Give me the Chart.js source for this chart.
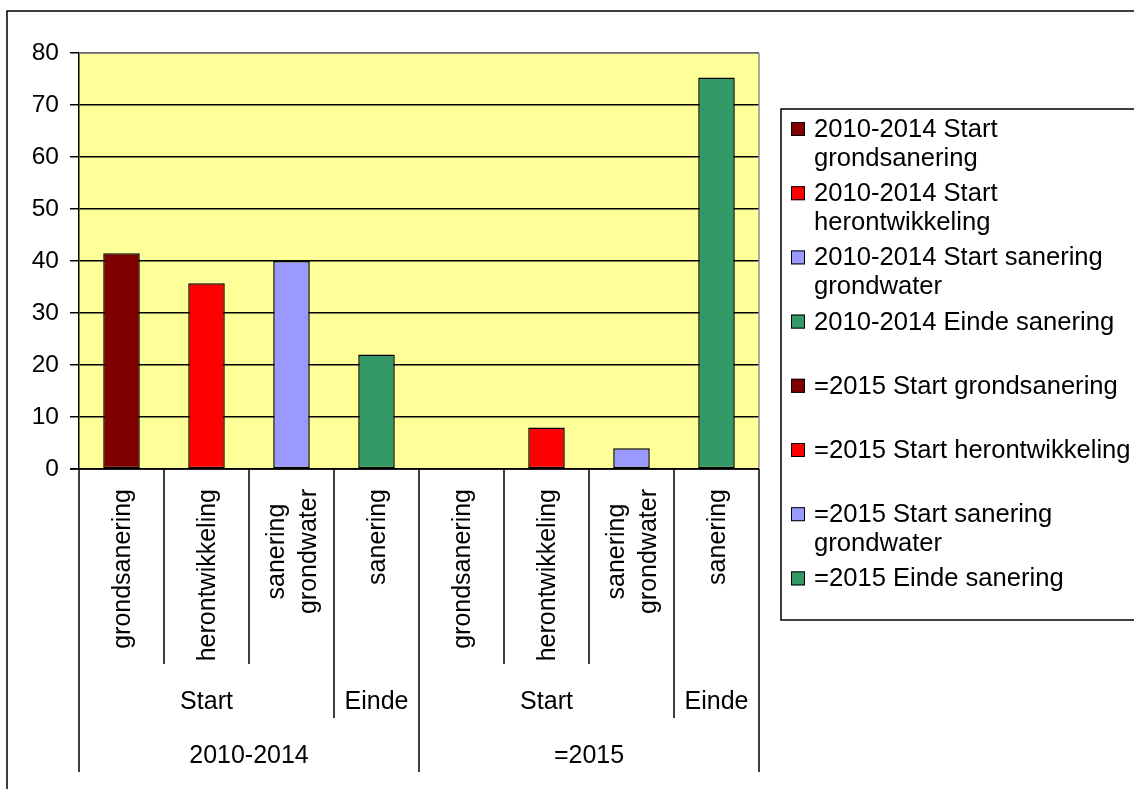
<!DOCTYPE html>
<html>
<head>
<meta charset="utf-8">
<script src="https://cdn.jsdelivr.net/npm/chart.js@4.4.1/dist/chart.umd.min.js"></script>
<style>
    html, body { margin: 0; padding: 0; background: #fff; }
    #chart { display: block; }
</style>
</head>
<body>
<canvas id="chart" width="1134" height="789"></canvas>
<script>
// categorieën (onderste niveau van de as)
const categories = [
    'grondsanering', 'herontwikkeling', ['sanering', 'grondwater'], 'sanering',
    'grondsanering', 'herontwikkeling', ['sanering', 'grondwater'], 'sanering'
];
const phaseLabels = ['Start', 'Einde', 'Start', 'Einde'];
const phaseSpans = [3, 1, 3, 1];
const periodLabels = ['2010-2014', '=2015'];
const periodSpans = [4, 4];

const seriesNames = [
    ['2010-2014 Start', 'grondsanering'],
    ['2010-2014 Start', 'herontwikkeling'],
    ['2010-2014 Start sanering', 'grondwater'],
    ['2010-2014 Einde sanering'],
    ['=2015 Start grondsanering'],
    ['=2015 Start herontwikkeling'],
    ['=2015 Start sanering', 'grondwater'],
    ['=2015 Einde sanering']
];
const seriesValues = [41.5, 35.7, 40, 22, 0, 8, 4, 75.3];
const seriesColors = ['#800000', '#FF0000', '#9999FF', '#339966', '#800000', '#FF0000', '#9999FF', '#339966'];

const yMin = 0;
const yMax = 80;
const yStep = 10;

const FONT = "'Liberation Sans', Arial, sans-serif";

// elke reeks heeft alleen een waarde in zijn eigen categorie
const datasets = seriesNames.map((name, i) => ({
    label: name.join(' '),
    data: categories.map((_, j) => (j === i ? seriesValues[i] : null)),
    backgroundColor: seriesColors[i],
    borderColor: '#000',
    borderWidth: 1.5,
    borderSkipped: false,
    categoryPercentage: 1,
    barPercentage: 0.43
}));

function line(ctx, x1, y1, x2, y2) {
    ctx.beginPath();
    ctx.moveTo(x1, y1);
    ctx.lineTo(x2, y2);
    ctx.stroke();
}

const excelLook = {
    id: 'excelLook',
    beforeDraw(chart) {
        const { ctx, chartArea: a } = chart;
        ctx.save();
        ctx.fillStyle = '#fff';
        ctx.fillRect(0, 0, chart.width, chart.height);
        ctx.fillStyle = '#FFFF99';
        ctx.fillRect(a.left, a.top, a.right - a.left, a.bottom - a.top);
        ctx.restore();
    },
    afterDraw(chart) {
        const { ctx, chartArea: a } = chart;
        const xs = chart.scales.x;
        const n = categories.length;
        const step = (a.right - a.left) / n;
        const edge = i => a.left + i * step;

        ctx.save();

        // buitenrand
        ctx.strokeStyle = '#000';
        ctx.lineWidth = 1.5;
        ctx.strokeRect(7, 11, chart.width + 20, chart.height + 20);

        // grijze rand van het tekengebied
        ctx.strokeStyle = '#8c8c8c';
        ctx.lineWidth = 1.5;
        line(ctx, a.left, a.top, a.right, a.top);
        line(ctx, a.right, a.top, a.right, a.bottom);

        // x-as
        ctx.strokeStyle = '#000';
        line(ctx, a.left - 9, a.bottom, a.right, a.bottom);

        // scheidingslijnen per niveau
        const phaseEdges = [0];
        phaseSpans.forEach(s => phaseEdges.push(phaseEdges[phaseEdges.length - 1] + s));
        const periodEdges = [0];
        periodSpans.forEach(s => periodEdges.push(periodEdges[periodEdges.length - 1] + s));
        for (let i = 0; i <= n; i++) {
            let end = a.bottom + 195;
            if (periodEdges.includes(i)) end = a.bottom + 303;
            else if (phaseEdges.includes(i)) end = a.bottom + 249;
            line(ctx, edge(i), a.bottom, edge(i), end);
        }

        // gedraaide categorielabels
        ctx.fillStyle = '#000';
        ctx.font = '25px ' + FONT;
        categories.forEach((cat, i) => {
            const lines = Array.isArray(cat) ? cat : [cat];
            const maxW = Math.max(...lines.map(t => ctx.measureText(t).width));
            const cx = xs.getPixelForValue(i);
            ctx.save();
            ctx.translate(cx, a.bottom + 20 + maxW / 2);
            ctx.rotate(-Math.PI / 2);
            ctx.textAlign = 'center';
            ctx.textBaseline = 'middle';
            lines.forEach((t, k) => {
                const dy = (k - (lines.length - 1) / 2) * 32 + 2;
                ctx.fillText(t, 0, dy);
            });
            ctx.restore();
        });

        // tweede en derde niveau
        ctx.textAlign = 'center';
        ctx.textBaseline = 'middle';
        let start = 0;
        phaseLabels.forEach((lbl, i) => {
            const mid = (edge(start) + edge(start + phaseSpans[i])) / 2;
            ctx.fillText(lbl, mid, a.bottom + 233);
            start += phaseSpans[i];
        });
        start = 0;
        periodLabels.forEach((lbl, i) => {
            const mid = (edge(start) + edge(start + periodSpans[i])) / 2;
            ctx.fillText(lbl, mid, a.bottom + 287);
            start += periodSpans[i];
        });

        // legenda
        const lx = 781, ly = 109;
        ctx.strokeStyle = '#000';
        ctx.lineWidth = 1.5;
        ctx.strokeRect(lx, ly, chart.width - lx + 20, 620 - ly);
        ctx.font = '25.6px ' + FONT;
        ctx.textAlign = 'left';
        ctx.textBaseline = 'alphabetic';
        chart.data.datasets.forEach((ds, i) => {
            const base = 137 + i * 64.2;
            ctx.fillStyle = ds.backgroundColor;
            ctx.fillRect(791, base - 15, 14, 14);
            ctx.lineWidth = 1;
            ctx.strokeRect(791.5, base - 14.5, 13, 13);
            ctx.fillStyle = '#000';
            seriesNames[i].forEach((t, k) => ctx.fillText(t, 814, base + k * 28.5));
        });

        ctx.restore();
    }
};

new Chart(document.getElementById('chart'), {
    type: 'bar',
    data: {
        labels: categories,
        datasets: datasets
    },
    options: {
        responsive: false,
        animation: false,
        layout: {
            padding: { left: 0, top: 53, right: 375, bottom: 320 }
        },
        plugins: {
            legend: { display: false },
            tooltip: { enabled: false }
        },
        scales: {
            x: {
                display: false,
                stacked: true
            },
            y: {
                stacked: true,
                min: yMin,
                max: yMax,
                afterFit: scale => { scale.width = 79; },
                ticks: {
                    stepSize: yStep,
                    color: '#000',
                    padding: 11,
                    font: { family: FONT, size: 24.5 }
                },
                grid: {
                    color: '#000',
                    lineWidth: 1.5,
                    tickLength: 9,
                    drawTicks: true
                },
                border: {
                    color: '#000',
                    width: 1.5
                }
            }
        }
    },
    plugins: [excelLook]
});
</script>
</body>
</html>
